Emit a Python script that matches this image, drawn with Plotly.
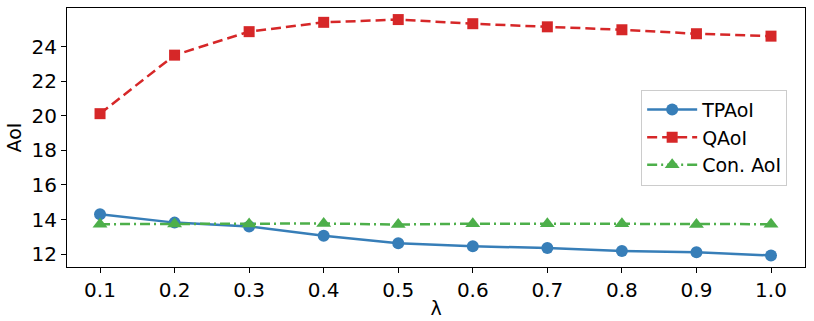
import plotly.graph_objects as go

lam = [0.1, 0.2, 0.3, 0.4, 0.5, 0.6, 0.7, 0.8, 0.9, 1.0]
tpaoi = [14.30, 13.82, 13.60, 13.06, 12.62, 12.45, 12.35, 12.18, 12.10, 11.92]
qaoi = [20.13, 23.52, 24.88, 25.42, 25.58, 25.34, 25.16, 24.99, 24.76, 24.62]
con_aoi = [13.73, 13.74, 13.74, 13.77, 13.71, 13.76, 13.76, 13.75, 13.71, 13.73]

x_ticks = ["0.1", "0.2", "0.3", "0.4", "0.5", "0.6", "0.7", "0.8", "0.9", "1.0"]
y_ticks = [12, 14, 16, 18, 20, 22, 24]

FONT = "DejaVu Sans"

fig = go.Figure()
fig.add_trace(go.Scatter(x=lam, y=tpaoi, name="TPAoI", mode="lines+markers",
                         line=dict(color="#377eb8", width=2.5),
                         marker=dict(symbol="circle", size=12, color="#377eb8")))
fig.add_trace(go.Scatter(x=lam, y=qaoi, name="QAoI", mode="lines+markers",
                         line=dict(color="#d62728", width=2.5, dash="10px,5px"),
                         marker=dict(symbol="square", size=11, color="#d62728")))
fig.add_trace(go.Scatter(x=lam, y=con_aoi, name="Con. AoI", mode="lines+markers",
                         line=dict(color="#4daf4a", width=2.5, dash="10px,4px,2px,4px"),
                         marker=dict(symbol="triangle-up", size=13, color="#4daf4a")))

axis_common = dict(showline=True, linecolor="black", linewidth=1, mirror=True,
                   ticks="outside", ticklen=5, tickcolor="black", showgrid=False,
                   zeroline=False, automargin=False,
                   tickfont=dict(family=FONT, size=20, color="black"))

fig.update_xaxes(range=[0.0557, 1.0456], tickvals=lam, ticktext=x_ticks,
                 title=dict(text="λ", font=dict(family=FONT, size=19, color="black"), standoff=0),
                 **axis_common)
fig.update_yaxes(range=[11.25, 26.25], tickvals=y_ticks,
                 title=dict(text="AoI", font=dict(family=FONT, size=19, color="black"), standoff=4),
                 **axis_common)

fig.update_layout(
    width=814, height=321,
    margin=dict(l=67, r=9, t=8, b=54),
    plot_bgcolor="white", paper_bgcolor="white",
    font=dict(family=FONT, size=19, color="black"),
    legend=dict(x=0.778, y=0.685, xanchor="left", yanchor="top",
                bgcolor="rgba(255,255,255,0.8)", bordercolor="#cccccc", borderwidth=1,
                font=dict(family=FONT, size=19), itemwidth=50, tracegroupgap=0),
)

# page body has a default 8px margin; drop it so the figure sits at the corner
fig.write_html("out.html", config={"displayModeBar": False},
               post_script="document.body.style.margin='0';")
